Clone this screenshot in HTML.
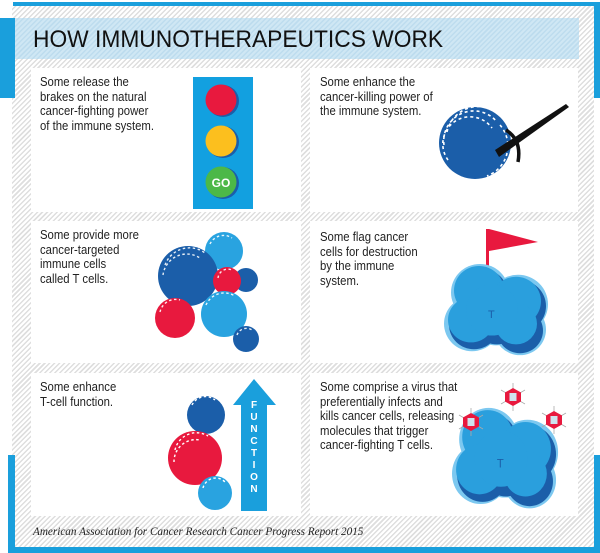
<!DOCTYPE html>
<html><head><meta charset="utf-8"><style>
html,body{margin:0;padding:0;background:#fff}
body{width:600px;height:553px;position:relative;overflow:hidden;font-family:"Liberation Sans",sans-serif}
.hatch{position:absolute;left:12px;top:6px;width:582px;height:542px;background:repeating-linear-gradient(135deg,#fff 0 2px,#dedede 2px 3.5px)}
.abs{position:absolute}
.panel{position:absolute;background:#fff}
.t{position:absolute;font-size:12.6px;line-height:14.6px;color:#222;transform:scaleX(0.9);transform-origin:0 0;white-space:nowrap}
</style></head><body>
<div class="hatch"></div>
<div class="abs" style="left:13px;top:2px;width:587px;height:4px;background:#1a9fdc"></div>
<div class="abs" style="left:594px;top:2px;width:6px;height:96px;background:#1a9fdc"></div>
<div class="abs" style="left:0;top:18px;width:15px;height:80px;background:#1a9fdc"></div>
<div class="abs" style="left:8px;top:455px;width:7px;height:98px;background:#1a9fdc"></div>
<div class="abs" style="left:8px;top:547px;width:592px;height:6px;background:#1a9fdc"></div>
<div class="abs" style="left:594px;top:455px;width:6px;height:98px;background:#1a9fdc"></div>
<div class="abs" style="left:15px;top:18px;width:564px;height:41px;background:repeating-linear-gradient(135deg,#cfe7f4 0 2px,#bddcee 2px 3.5px)"></div>
<div class="abs" style="left:33px;top:26px;font-size:24.5px;color:#111;white-space:nowrap;transform:scaleX(0.93);transform-origin:0 0">HOW IMMUNOTHERAPEUTICS WORK</div>

<div class="panel" style="left:31px;top:68px;width:270px;height:144px"></div>
<div class="panel" style="left:310px;top:68px;width:268px;height:144px"></div>
<div class="panel" style="left:31px;top:221px;width:270px;height:142px"></div>
<div class="panel" style="left:310px;top:221px;width:268px;height:142px"></div>
<div class="panel" style="left:31px;top:373px;width:270px;height:143px"></div>
<div class="panel" style="left:310px;top:373px;width:268px;height:143px"></div>

<div class="t" style="left:40px;top:75px">Some release the<br>brakes on the natural<br>cancer-fighting power<br>of the immune system.</div>
<div class="t" style="left:320px;top:75px">Some enhance the<br>cancer-killing power of<br>the immune system.</div>
<div class="t" style="left:40px;top:228px">Some provide more<br>cancer-targeted<br>immune cells<br>called T cells.</div>
<div class="t" style="left:320px;top:230px">Some flag cancer<br>cells for destruction<br>by the immune<br>system.</div>
<div class="t" style="left:40px;top:380px">Some enhance<br>T-cell function.</div>
<div class="t" style="left:320px;top:380px">Some comprise a virus that<br>preferentially infects and<br>kills cancer cells, releasing<br>molecules that trigger<br>cancer-fighting T cells.</div>
<div class="abs" style="left:33px;top:526px;font-family:'Liberation Serif',serif;font-style:italic;font-size:11.2px;color:#222;white-space:nowrap">American Association for Cancer Research Cancer Progress Report 2015</div>

<svg class="abs" style="left:0;top:0" width="600" height="553" viewBox="0 0 600 553">
<defs>
<g id="cloud">
 <g fill="#7cc8f0"><circle cx="36" cy="28" r="29"/><circle cx="74" cy="40" r="30"/><circle cx="28" cy="60" r="28"/><circle cx="76" cy="66" r="26"/><circle cx="52" cy="52" r="30"/></g>
 <g fill="#1b5ea9"><circle cx="38" cy="30" r="26"/><circle cx="75" cy="42" r="27"/><circle cx="30" cy="61" r="25"/><circle cx="76" cy="67" r="23"/><circle cx="53" cy="54" r="27"/></g>
 <g fill="#2a9fdd"><circle cx="35" cy="26" r="25"/><circle cx="72" cy="37" r="25"/><circle cx="27" cy="56" r="23"/><circle cx="72" cy="60" r="21"/><circle cx="48" cy="46" r="26"/></g>
 <text x="44" y="54" font-family="Liberation Sans,sans-serif" font-size="11" fill="#1b5ea9">T</text>
</g>
<g id="virus">
 <g stroke="#aaa" stroke-width="0.8"><line x1="0" y1="-14" x2="0" y2="14"/><line x1="-12" y1="-7" x2="12" y2="7"/><line x1="-12" y1="7" x2="12" y2="-7"/></g>
 <polygon points="0,-9 8,-4.5 8,4.5 0,9 -8,4.5 -8,-4.5" fill="#e8193e"/>
 <rect x="-3.5" y="-4" width="7" height="8" fill="#cfe3ee"/>
</g>
</defs>
<rect x="193" y="77" width="60" height="132" fill="#12a0e0"/>
<circle cx="223" cy="101" r="16" fill="#1b5ea9"/><circle cx="221" cy="100" r="15.5" fill="#e8193e"/>
<circle cx="223" cy="142" r="16" fill="#1b5ea9"/><circle cx="221" cy="141" r="15.5" fill="#fcbf1e"/>
<circle cx="223" cy="183" r="16" fill="#1b5ea9"/><circle cx="221" cy="182" r="15.5" fill="#4cb848"/>
<text x="221" y="187" text-anchor="middle" font-family="Liberation Sans,sans-serif" font-weight="bold" font-size="12" fill="#fff">GO</text>
<circle cx="475" cy="143" r="36" fill="#1b5ea9"/>
<g fill="none" stroke="#fff" stroke-width="1.6" stroke-dasharray="3 3">
<path d="M447 132 A32 32 0 0 1 500 115"/><path d="M444 145 A30 30 0 0 1 497 122"/><path d="M448 160 A26 26 0 0 1 492 128"/><path d="M500 125 A32 32 0 0 1 487 176"/></g>
<path d="M495 150 L566 104 L569 107 L499 157 Z" fill="#111"/>
<path d="M506 130 Q522 140 518 162" stroke="#111" stroke-width="3.5" fill="none"/>
<circle cx="224" cy="251" r="19" fill="#29a3e0"/>
<circle cx="246" cy="280" r="12" fill="#1b5ea9"/>
<circle cx="188" cy="276" r="30" fill="#1b5ea9"/>
<circle cx="227" cy="281" r="14" fill="#e8193e"/>
<circle cx="175" cy="318" r="20" fill="#e8193e"/>
<circle cx="224" cy="314" r="23" fill="#29a3e0"/>
<circle cx="246" cy="339" r="13" fill="#1b5ea9"/>
<g fill="none" stroke="#fff" stroke-width="1.4" stroke-dasharray="2.5 2.5" opacity="0.9">
<path d="M165 265 A26 26 0 0 1 205 253"/><path d="M163 275 A24 24 0 0 1 200 258"/><path d="M210 244 A15 15 0 0 1 232 238"/><path d="M160 312 A16 16 0 0 1 180 300"/><path d="M206 305 A20 20 0 0 1 235 296"/><path d="M218 278 A10 10 0 0 1 232 270"/><path d="M237 335 A10 10 0 0 1 252 330"/></g>
<rect x="486" y="229" width="3" height="65" fill="#e8193e"/>
<polygon points="489,229 538,242 489,251" fill="#e8193e"/>
<use href="#cloud" transform="translate(444,265) scale(1.0,0.98)"/>
<circle cx="206" cy="415" r="19" fill="#1b5ea9"/>
<circle cx="195" cy="458" r="27" fill="#e8193e"/>
<circle cx="215" cy="493" r="17" fill="#29a3e0"/>
<g fill="none" stroke="#fff" stroke-width="1.4" stroke-dasharray="2.5 2.5">
<path d="M192 405 A15 15 0 0 1 215 400"/><path d="M175 450 A22 22 0 0 1 208 436"/><path d="M174 462 A22 22 0 0 1 200 440"/><path d="M203 488 A13 13 0 0 1 225 482"/></g>
<polygon points="254,379 276,405 267,405 267,511 241,511 241,405 233,405" fill="#1a9fdc"/>
<g font-family="Liberation Sans,sans-serif" font-weight="bold" font-size="10" fill="#fff" text-anchor="middle">
<text x="254" y="408">F</text><text x="254" y="420">U</text><text x="254" y="432">N</text><text x="254" y="444">C</text><text x="254" y="456">T</text><text x="254" y="468">I</text><text x="254" y="480">O</text><text x="254" y="492">N</text></g>
<use href="#cloud" transform="translate(452,409) scale(1.02,1.08)"/>
<use href="#virus" transform="translate(513,397)"/>
<use href="#virus" transform="translate(471,422)"/>
<use href="#virus" transform="translate(554,420)"/>
</svg>
</body></html>
